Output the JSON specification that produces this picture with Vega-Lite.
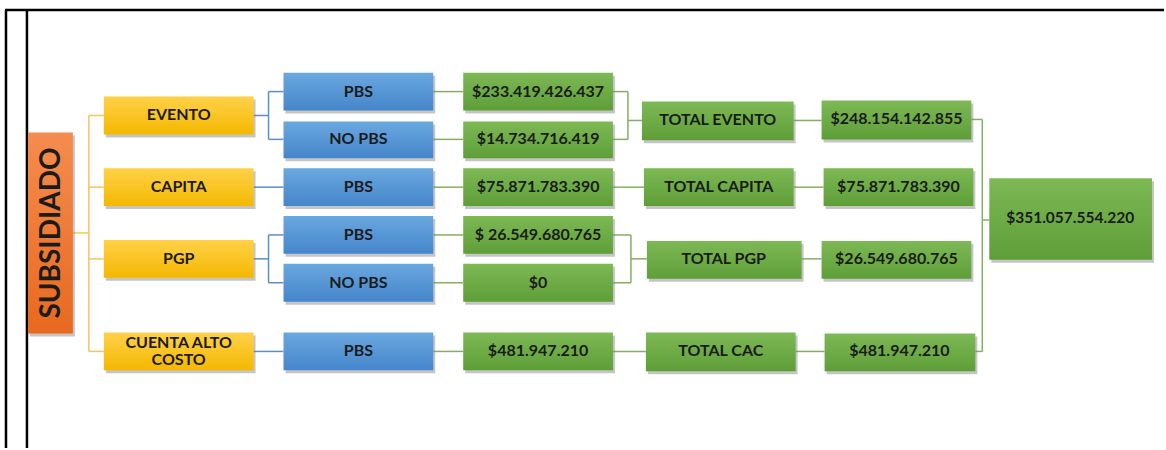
{
  "$schema": "https://vega.github.io/schema/vega-lite/v6.json",
  "width": 1166,
  "height": 450,
  "autosize": {"type": "fit", "contains": "padding"},
  "padding": 0,
  "background": "white",
  "config": {"view": {"stroke": null}},
  "datasets": {
    "boxes": [
      {"kind": "orange", "label": "SUBSIDIADO", "x": 28, "x2": 73, "y": 133, "y2": 335, "cx": 52, "cy": 234},
      {"kind": "yellow", "label": "EVENTO", "x": 104, "x2": 254, "y": 97, "y2": 135, "cx": 179, "cy": 116},
      {"kind": "yellow", "label": "CAPITA", "x": 104, "x2": 254, "y": 169, "y2": 207, "cx": 179, "cy": 188},
      {"kind": "yellow", "label": "PGP", "x": 104, "x2": 254, "y": 241, "y2": 279, "cx": 179, "cy": 260},
      {"kind": "yellow", "label": "CUENTA ALTO\nCOSTO", "x": 104, "x2": 254, "y": 334, "y2": 372, "cx": 179, "cy": 345},
      {"kind": "blue", "label": "PBS", "x": 284, "x2": 434, "y": 73, "y2": 111, "cx": 359, "cy": 92},
      {"kind": "blue", "label": "NO PBS", "x": 284, "x2": 434, "y": 122, "y2": 159, "cx": 359, "cy": 140},
      {"kind": "blue", "label": "PBS", "x": 284, "x2": 434, "y": 169, "y2": 207, "cx": 359, "cy": 188},
      {"kind": "blue", "label": "PBS", "x": 284, "x2": 434, "y": 217, "y2": 255, "cx": 359, "cy": 236},
      {"kind": "blue", "label": "NO PBS", "x": 284, "x2": 434, "y": 265, "y2": 303, "cx": 359, "cy": 284},
      {"kind": "blue", "label": "PBS", "x": 284, "x2": 434, "y": 334, "y2": 372, "cx": 359, "cy": 353},
      {"kind": "green", "label": "$233.419.426.437", "x": 464, "x2": 614, "y": 73, "y2": 111, "cx": 539, "cy": 92},
      {"kind": "green", "label": "$14.734.716.419", "x": 464, "x2": 614, "y": 122, "y2": 159, "cx": 539, "cy": 140},
      {"kind": "green", "label": "$75.871.783.390", "x": 464, "x2": 614, "y": 169, "y2": 207, "cx": 539, "cy": 188},
      {"kind": "green", "label": "$ 26.549.680.765", "x": 464, "x2": 614, "y": 217, "y2": 255, "cx": 539, "cy": 236},
      {"kind": "green", "label": "$0", "x": 464, "x2": 614, "y": 265, "y2": 303, "cx": 539, "cy": 284},
      {"kind": "green", "label": "$481.947.210", "x": 464, "x2": 614, "y": 334, "y2": 372, "cx": 539, "cy": 353},
      {"kind": "green", "label": "TOTAL EVENTO", "x": 643, "x2": 795, "y": 102, "y2": 141, "cx": 719, "cy": 121},
      {"kind": "green", "label": "TOTAL CAPITA", "x": 645, "x2": 795, "y": 169, "y2": 207, "cx": 720, "cy": 188},
      {"kind": "green", "label": "TOTAL PGP", "x": 648, "x2": 803, "y": 242, "y2": 280, "cx": 725, "cy": 260},
      {"kind": "green", "label": "TOTAL CAC", "x": 647, "x2": 797, "y": 334, "y2": 373, "cx": 722, "cy": 353},
      {"kind": "green", "label": "$248.154.142.855", "x": 823, "x2": 973, "y": 101, "y2": 140, "cx": 898, "cy": 120},
      {"kind": "green", "label": "$75.871.783.390", "x": 825, "x2": 975, "y": 169, "y2": 207, "cx": 900, "cy": 188},
      {"kind": "green", "label": "$26.549.680.765", "x": 823, "x2": 973, "y": 242, "y2": 280, "cx": 898, "cy": 260},
      {"kind": "green", "label": "$481.947.210", "x": 826, "x2": 977, "y": 335, "y2": 373, "cx": 901, "cy": 353},
      {"kind": "final", "label": "$351.057.554.220", "x": 991, "x2": 1154, "y": 179, "y2": 261, "cx": 1072, "cy": 219}
    ],
    "lines": [
      {"kind": "frame", "x": 5, "x2": 1166, "y": 10, "y2": 10},
      {"kind": "frame", "x": 6, "x2": 6, "y": 10, "y2": 450},
      {"kind": "frame", "x": 27, "x2": 27, "y": 10, "y2": 450},
      {"kind": "yellow", "x": 73, "x2": 89, "y": 234, "y2": 234},
      {"kind": "yellow", "x": 89, "x2": 89, "y": 116, "y2": 353},
      {"kind": "yellow", "x": 89, "x2": 104, "y": 116, "y2": 116},
      {"kind": "yellow", "x": 89, "x2": 104, "y": 188, "y2": 188},
      {"kind": "yellow", "x": 89, "x2": 104, "y": 260, "y2": 260},
      {"kind": "yellow", "x": 89, "x2": 104, "y": 353, "y2": 353},
      {"kind": "blue", "x": 254, "x2": 269, "y": 116, "y2": 116},
      {"kind": "blue", "x": 269, "x2": 269, "y": 92, "y2": 140},
      {"kind": "blue", "x": 269, "x2": 284, "y": 92, "y2": 92},
      {"kind": "blue", "x": 269, "x2": 284, "y": 140, "y2": 140},
      {"kind": "blue", "x": 254, "x2": 284, "y": 188, "y2": 188},
      {"kind": "blue", "x": 254, "x2": 269, "y": 260, "y2": 260},
      {"kind": "blue", "x": 269, "x2": 269, "y": 236, "y2": 284},
      {"kind": "blue", "x": 269, "x2": 284, "y": 236, "y2": 236},
      {"kind": "blue", "x": 269, "x2": 284, "y": 284, "y2": 284},
      {"kind": "blue", "x": 254, "x2": 284, "y": 353, "y2": 353},
      {"kind": "green", "x": 434, "x2": 464, "y": 92, "y2": 92},
      {"kind": "green", "x": 434, "x2": 464, "y": 140, "y2": 140},
      {"kind": "green", "x": 434, "x2": 464, "y": 188, "y2": 188},
      {"kind": "green", "x": 434, "x2": 464, "y": 236, "y2": 236},
      {"kind": "green", "x": 434, "x2": 464, "y": 284, "y2": 284},
      {"kind": "green", "x": 434, "x2": 464, "y": 353, "y2": 353},
      {"kind": "green", "x": 614, "x2": 629, "y": 92, "y2": 92},
      {"kind": "green", "x": 614, "x2": 629, "y": 140, "y2": 140},
      {"kind": "green", "x": 629, "x2": 629, "y": 92, "y2": 140},
      {"kind": "green", "x": 629, "x2": 643, "y": 121, "y2": 121},
      {"kind": "green", "x": 614, "x2": 645, "y": 188, "y2": 188},
      {"kind": "green", "x": 614, "x2": 632, "y": 236, "y2": 236},
      {"kind": "green", "x": 614, "x2": 632, "y": 284, "y2": 284},
      {"kind": "green", "x": 632, "x2": 632, "y": 236, "y2": 284},
      {"kind": "green", "x": 632, "x2": 648, "y": 260, "y2": 260},
      {"kind": "green", "x": 614, "x2": 647, "y": 353, "y2": 353},
      {"kind": "green", "x": 795, "x2": 823, "y": 121, "y2": 121},
      {"kind": "green", "x": 795, "x2": 825, "y": 188, "y2": 188},
      {"kind": "green", "x": 803, "x2": 823, "y": 260, "y2": 260},
      {"kind": "green", "x": 797, "x2": 826, "y": 353, "y2": 353},
      {"kind": "green", "x": 973, "x2": 984, "y": 120, "y2": 120},
      {"kind": "green", "x": 977, "x2": 984, "y": 353, "y2": 353},
      {"kind": "green", "x": 984, "x2": 984, "y": 120, "y2": 353},
      {"kind": "green", "x": 984, "x2": 991, "y": 221, "y2": 221}
    ]
  },
  "encoding": {
    "x": {"field": "x", "type": "quantitative", "scale": {"domain": [0, 1166], "nice": false, "zero": false}, "axis": null},
    "y": {"field": "y", "type": "quantitative", "scale": {"domain": [0, 450], "nice": false, "zero": false, "reverse": true}, "axis": null}
  },
  "layer": [
    {
      "data": {"name": "lines"},
      "transform": [{"filter": "datum.kind === 'frame'"}],
      "mark": {"type": "rule", "color": "#000000", "strokeWidth": 2.5},
      "encoding": {"x2": {"field": "x2"}, "y2": {"field": "y2"}}
    },
    {
      "data": {"name": "lines"},
      "transform": [{"filter": "datum.kind !== 'frame'"}],
      "mark": {"type": "rule", "strokeWidth": 1.5},
      "encoding": {
        "x2": {"field": "x2"},
        "y2": {"field": "y2"},
        "color": {"field": "kind", "type": "nominal", "scale": {"domain": ["yellow", "blue", "green"], "range": ["#F5C463", "#5B8EC6", "#82B060"]}, "legend": null}
      }
    },
    {
      "data": {"name": "boxes"},
      "mark": {"type": "rect", "color": "#7f7f7f", "opacity": 0.45, "xOffset": 2, "x2Offset": 2, "yOffset": 3, "y2Offset": 3},
      "encoding": {"x2": {"field": "x2"}, "y2": {"field": "y2"}}
    },
    {
      "data": {"name": "boxes"},
      "transform": [{"filter": "datum.kind === 'orange'"}],
      "mark": {"type": "rect", "color": {"gradient": "linear", "x1": 0, "y1": 0, "x2": 0, "y2": 1, "stops": [{"offset": 0, "color": "#F58C4E"}, {"offset": 1, "color": "#E8691F"}]}},
      "encoding": {"x2": {"field": "x2"}, "y2": {"field": "y2"}}
    },
    {
      "data": {"name": "boxes"},
      "transform": [{"filter": "datum.kind === 'yellow'"}],
      "mark": {"type": "rect", "color": {"gradient": "linear", "x1": 0, "y1": 0, "x2": 0, "y2": 1, "stops": [{"offset": 0, "color": "#FFD149"}, {"offset": 1, "color": "#F4B800"}]}},
      "encoding": {"x2": {"field": "x2"}, "y2": {"field": "y2"}}
    },
    {
      "data": {"name": "boxes"},
      "transform": [{"filter": "datum.kind === 'blue'"}],
      "mark": {"type": "rect", "color": {"gradient": "linear", "x1": 0, "y1": 0, "x2": 0, "y2": 1, "stops": [{"offset": 0, "color": "#6AA8E0"}, {"offset": 1, "color": "#4585CA"}]}},
      "encoding": {"x2": {"field": "x2"}, "y2": {"field": "y2"}}
    },
    {
      "data": {"name": "boxes"},
      "transform": [{"filter": "datum.kind === 'green' || datum.kind === 'final'"}],
      "mark": {"type": "rect", "color": {"gradient": "linear", "x1": 0, "y1": 0, "x2": 0, "y2": 1, "stops": [{"offset": 0, "color": "#7DB955"}, {"offset": 1, "color": "#5E9E37"}]}},
      "encoding": {"x2": {"field": "x2"}, "y2": {"field": "y2"}}
    },
    {
      "data": {"name": "boxes"},
      "transform": [{"filter": "datum.kind !== 'orange' && datum.kind !== 'final'"}],
      "mark": {"type": "text", "font": "Lato", "fontWeight": "bold", "fontSize": 16, "color": "#1b1b1b", "align": "center", "baseline": "middle", "lineBreak": "\n", "lineHeight": 17},
      "encoding": {
        "x": {"field": "cx", "type": "quantitative"},
        "y": {"field": "cy", "type": "quantitative"},
        "text": {"field": "label"}
      }
    },
    {
      "data": {"name": "boxes"},
      "transform": [{"filter": "datum.kind === 'final'"}],
      "mark": {"type": "text", "font": "Lato", "fontWeight": "bold", "fontSize": 15.5, "color": "#1b1b1b", "align": "center", "baseline": "middle"},
      "encoding": {
        "x": {"field": "cx", "type": "quantitative"},
        "y": {"field": "cy", "type": "quantitative"},
        "text": {"field": "label"}
      }
    },
    {
      "data": {"name": "boxes"},
      "transform": [{"filter": "datum.kind === 'orange'"}],
      "mark": {"type": "text", "font": "Lato", "fontWeight": "bold", "fontSize": 28, "angle": 270, "color": "#1b1b1b", "align": "center", "baseline": "middle"},
      "encoding": {
        "x": {"field": "cx", "type": "quantitative"},
        "y": {"field": "cy", "type": "quantitative"},
        "text": {"field": "label"}
      }
    }
  ]
}
